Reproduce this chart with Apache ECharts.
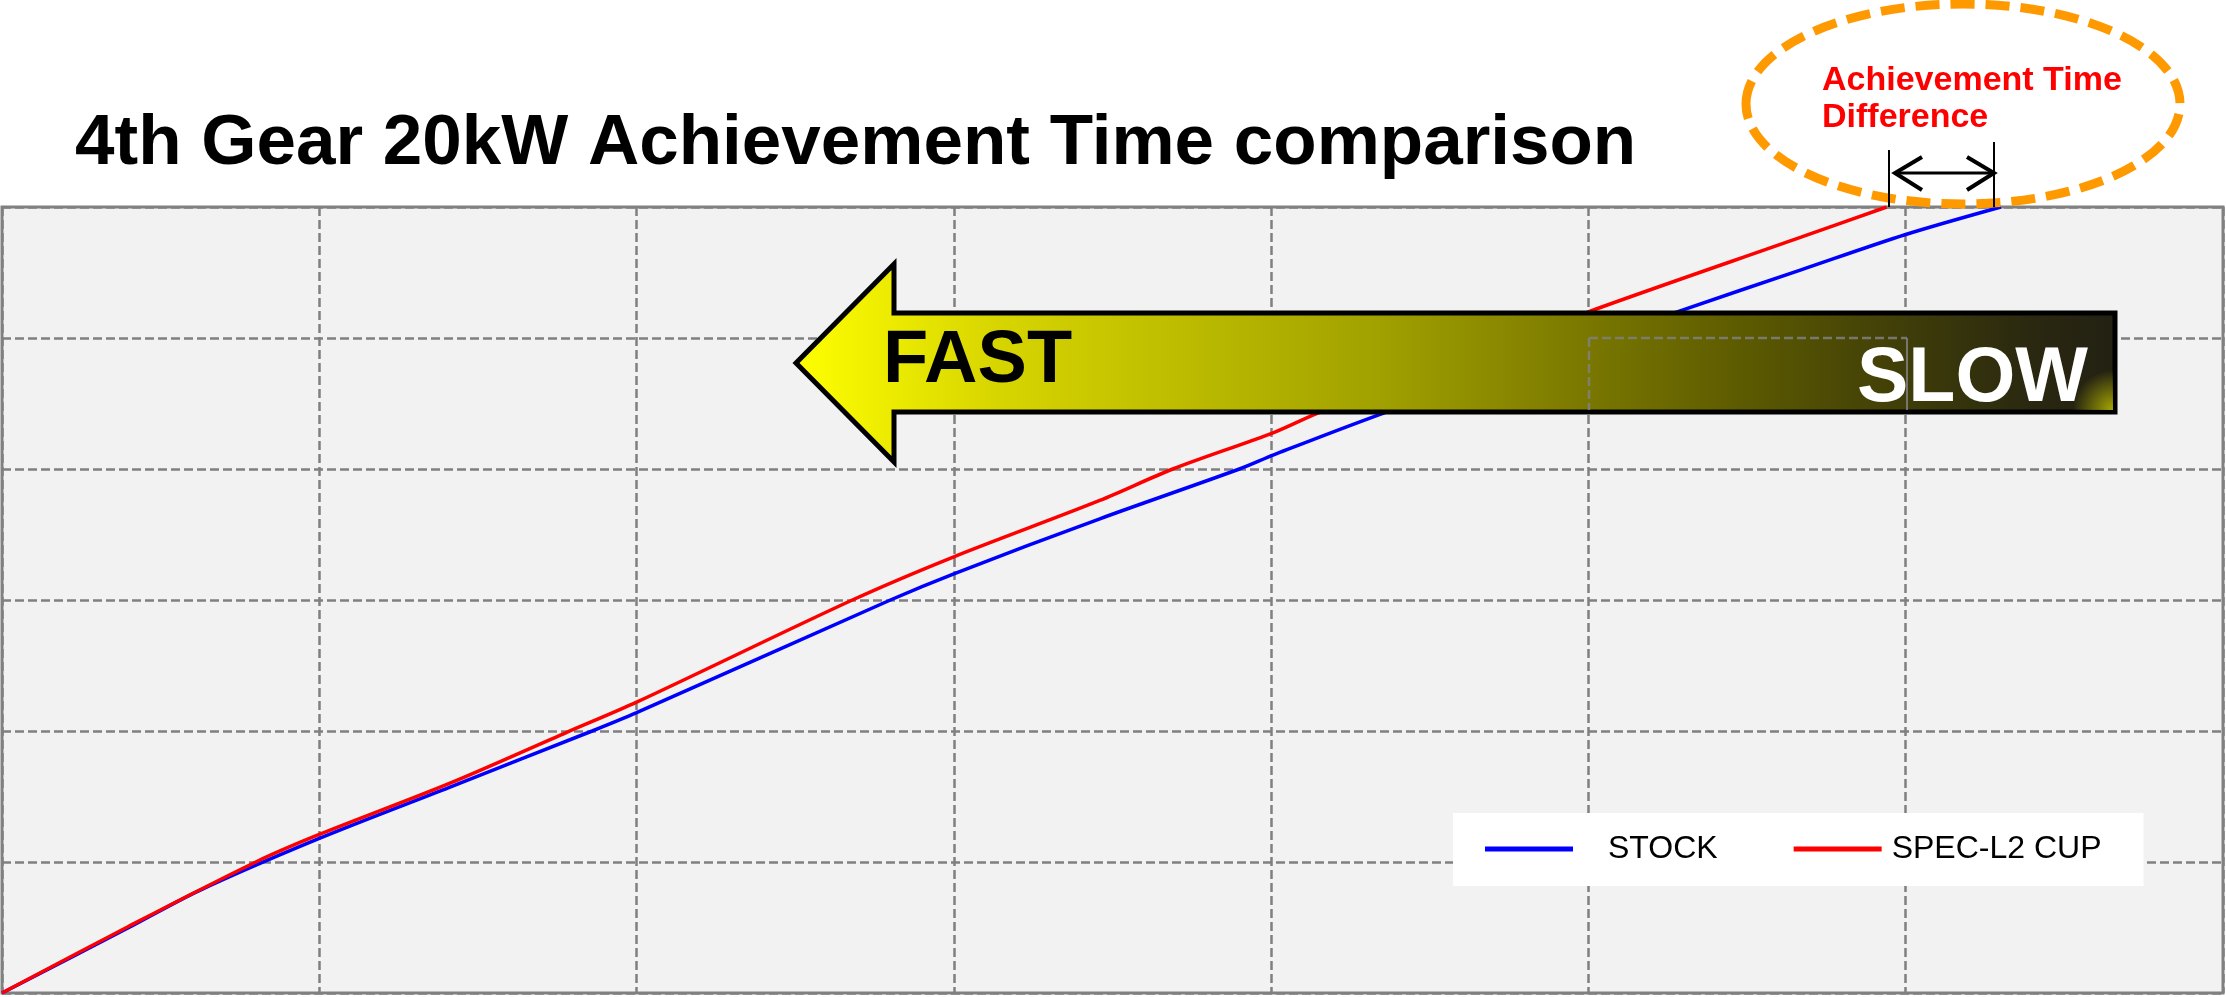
<!DOCTYPE html>
<html>
<head>
<meta charset="utf-8">
<script src="https://cdn.jsdelivr.net/npm/echarts@6.0.0/dist/echarts.min.js"></script>
<style>
  html, body { margin: 0; padding: 0; background: #ffffff; }
  #chart { width: 2226px; height: 997px; }
</style>
</head>
<body>
<div id="chart"></div>
<script>
// ---- data (grid units) ----
const titleText = '4th Gear 20kW Achievement Time comparison';
const seriesNames = ['STOCK', 'SPEC-L2 CUP'];
const xMax = 7;   // 7 vertical grid divisions
const yMax = 6;   // 6 horizontal grid divisions

const stockX = [0, 0.40, 0.62, 1.00, 1.41, 1.86, 2.00, 2.80, 3.00, 3.46, 3.90, 4.01, 4.37, 5.28, 5.67, 6.00, 6.30];
const stockY = [0, 0.50, 0.78, 1.18, 1.57, 2.00, 2.14, 3.00, 3.20, 3.62, 4.00, 4.11, 4.44, 5.20, 5.52, 5.79, 6.00];

const specX = [0, 0.40, 0.80, 1.00, 1.41, 1.78, 2.00, 2.68, 3.00, 3.46, 3.69, 4.01, 4.16, 5.00, 5.67, 5.94];
const specY = [0, 0.51, 1.00, 1.21, 1.60, 1.99, 2.22, 3.00, 3.33, 3.76, 4.00, 4.28, 4.44, 5.20, 5.77, 6.00];

const annotationLines = ['Achievement Time', 'Difference'];
const arrowWords = ['FAST', 'SLOW'];

// ---- chart ----
const chart = echarts.init(document.getElementById('chart'), null, { renderer: 'canvas' });

const pairs = (xs, ys) => xs.map((x, i) => [x, ys[i]]);

const arrowFill = new echarts.graphic.LinearGradient(0, 0, 1, 0, [
  { offset: 0.00, color: '#ffff00' },
  { offset: 0.15, color: '#d8d600' },
  { offset: 0.445, color: '#a0a000' },
  { offset: 0.575, color: '#807e00' },
  { offset: 0.706, color: '#5f5d00' },
  { offset: 0.836, color: '#403e08' },
  { offset: 0.934, color: '#2a2810' },
  { offset: 1.00, color: '#222012' }
]);

const cornerGlow = new echarts.graphic.RadialGradient(1, 1, 1, [
  { offset: 0, color: 'rgba(190,190,0,0.85)' },
  { offset: 1, color: 'rgba(190,190,0,0)' }
]);

const gridGrey = '#808080';

const option = {
  backgroundColor: '#ffffff',
  animation: false,
  title: {
    text: titleText,
    left: 75,
    top: 108,
    padding: 0,
    textStyle: {
      fontFamily: 'Liberation Sans',
      fontWeight: 'bold',
      fontSize: 71,
      lineHeight: 72,
      color: '#000000'
    }
  },
  grid: {
    left: 2, top: 207, width: 2221, height: 786,
    show: true,
    backgroundColor: '#f2f2f2',
    borderColor: gridGrey,
    borderWidth: 3,
    containLabel: false
  },
  legend: {
    left: 1453,
    top: 813,
    orient: 'horizontal',
    backgroundColor: '#ffffff',
    padding: [16, 42, 17, 32],
    itemWidth: 88,
    itemHeight: 5,
    itemGap: 76,
    icon: 'rect',
    selectedMode: false,
    textStyle: {
      fontFamily: 'Liberation Sans',
      fontSize: 32,
      lineHeight: 40,
      color: '#000000'
    },
    data: [
      { name: seriesNames[0], textStyle: { padding: [0, 0, 0, 30] } },
      { name: seriesNames[1], textStyle: { padding: [0, 0, 0, 5] } }
    ]
  },
  xAxis: {
    type: 'value', min: 0, max: xMax, interval: 1,
    axisLine: { show: false }, axisTick: { show: false }, axisLabel: { show: false },
    splitLine: { show: true, lineStyle: { color: gridGrey, width: 2.5, type: [9, 4] } }
  },
  yAxis: {
    type: 'value', min: 0, max: yMax, interval: 1,
    axisLine: { show: false }, axisTick: { show: false }, axisLabel: { show: false },
    splitLine: { show: true, lineStyle: { color: gridGrey, width: 2.5, type: [9, 4] } }
  },
  series: [
    {
      name: seriesNames[0], type: 'line', data: pairs(stockX, stockY),
      showSymbol: false, smooth: 0.3,
      lineStyle: { color: '#0000ff', width: 3.5 }, itemStyle: { color: '#0000ff' }
    },
    {
      name: seriesNames[1], type: 'line', data: pairs(specX, specY),
      showSymbol: false, smooth: 0.3,
      lineStyle: { color: '#ff0000', width: 3.5 }, itemStyle: { color: '#ff0000' }
    }
  ],
  graphic: [
    // big FAST/SLOW arrow
    {
      type: 'polygon', z: 100,
      shape: { points: [[796, 363], [894, 264], [894, 313], [2115, 313], [2115, 412], [894, 412], [894, 462]] },
      style: { fill: arrowFill, stroke: '#000000', lineWidth: 5, lineJoin: 'miter' }
    },
    // faint yellow glow in the lower-right corner of the arrow body
    {
      type: 'rect', z: 100,
      shape: { x: 2070, y: 370, width: 43, height: 40 },
      style: { fill: cornerGlow }
    },
    // grid lines faintly showing through the arrow
    { type: 'line', z: 101, shape: { x1: 1589, y1: 338, x2: 1907, y2: 338 },
      style: { stroke: gridGrey, lineWidth: 2.5, lineDash: [9, 4], opacity: 0.85 } },
    { type: 'line', z: 101, shape: { x1: 1589, y1: 338, x2: 1589, y2: 410 },
      style: { stroke: gridGrey, lineWidth: 2.5, lineDash: [9, 4], opacity: 0.85 } },
    { type: 'line', z: 101, shape: { x1: 1907, y1: 338, x2: 1907, y2: 410 },
      style: { stroke: gridGrey, lineWidth: 2, opacity: 0.85 } },
    {
      type: 'text', z: 102,
      style: { text: arrowWords[0], x: 883, y: 362, fill: '#000000',
        fontFamily: 'Liberation Sans', fontWeight: 'bold', fontSize: 74,
        align: 'left', verticalAlign: 'middle' }
    },
    {
      type: 'text', z: 102,
      style: { text: arrowWords[1], x: 1857, y: 380, fill: '#ffffff',
        fontFamily: 'Liberation Sans', fontWeight: 'bold', fontSize: 77,
        align: 'left', verticalAlign: 'middle' }
    },
    // dashed orange ellipse
    {
      type: 'ellipse', z: 110,
      shape: { cx: 1963, cy: 104, rx: 217, ry: 100 },
      style: { fill: null, stroke: '#ff9900', lineWidth: 9, lineDash: [24, 11] }
    },
    {
      type: 'text', z: 111,
      style: { text: annotationLines[0], x: 1822, y: 81, fill: '#ff0000',
        fontFamily: 'Liberation Sans', fontWeight: 'bold', fontSize: 34,
        align: 'left', verticalAlign: 'middle' }
    },
    {
      type: 'text', z: 111,
      style: { text: annotationLines[1], x: 1822, y: 118, fill: '#ff0000',
        fontFamily: 'Liberation Sans', fontWeight: 'bold', fontSize: 34,
        align: 'left', verticalAlign: 'middle' }
    },
    // difference marker
    { type: 'line', z: 112, shape: { x1: 1889, y1: 150, x2: 1889, y2: 207 },
      style: { stroke: '#000000', lineWidth: 2 } },
    { type: 'line', z: 112, shape: { x1: 1994, y1: 142, x2: 1994, y2: 207 },
      style: { stroke: '#000000', lineWidth: 2 } },
    { type: 'line', z: 112, shape: { x1: 1895, y1: 173, x2: 1993, y2: 173 },
      style: { stroke: '#000000', lineWidth: 3 } },
    { type: 'polyline', z: 112, shape: { points: [[1922, 157], [1895, 173], [1922, 190]] },
      style: { stroke: '#000000', lineWidth: 4, fill: null } },
    { type: 'polyline', z: 112, shape: { points: [[1967, 157], [1994, 173], [1967, 190]] },
      style: { stroke: '#000000', lineWidth: 4, fill: null } }
  ]
};

chart.setOption(option);
</script>
</body>
</html>
